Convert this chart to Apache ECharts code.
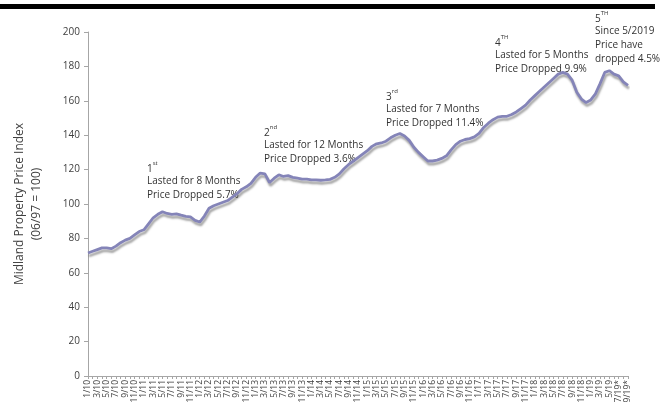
<!DOCTYPE html>
<html>
<head>
<meta charset="utf-8">
<script src="https://cdn.jsdelivr.net/npm/echarts@6/dist/echarts.min.js"></script>
<style>
html,body{margin:0;padding:0;background:#fff;}
#c{width:670px;height:407px;}
</style>
</head>
<body>
<div id="c"></div>
<script>
var categories = [
"1/10","2/10","3/10","4/10","5/10","6/10","7/10","8/10","9/10","10/10","11/10","12/10",
"1/11","2/11","3/11","4/11","5/11","6/11","7/11","8/11","9/11","10/11","11/11","12/11",
"1/12","2/12","3/12","4/12","5/12","6/12","7/12","8/12","9/12","10/12","11/12","12/12",
"1/13","2/13","3/13","4/13","5/13","6/13","7/13","8/13","9/13","10/13","11/13","12/13",
"1/14","2/14","3/14","4/14","5/14","6/14","7/14","8/14","9/14","10/14","11/14","12/14",
"1/15","2/15","3/15","4/15","5/15","6/15","7/15","8/15","9/15","10/15","11/15","12/15",
"1/16","2/16","3/16","4/16","5/16","6/16","7/16","8/16","9/16","10/16","11/16","12/16",
"1/17","2/17","3/17","4/17","5/17","6/17","7/17","8/17","9/17","10/17","11/17","12/17",
"1/18","2/18","3/18","4/18","5/18","6/18","7/18","8/18","9/18","10/18","11/18","12/18",
"1/19","2/19","3/19","4/19","5/19","6/19","7/19*","8/19*","9/19*"
];
var priceIndex = [
71.5,72.5,73.5,74.5,74.5,74,75.5,77.5,79,80,82,84,
85,88.5,92,94,95.5,94.5,94,94.3,93.5,92.8,92.5,90.5,
89.5,93,97.5,99,100,101,102,104,106,108.5,110,112,
115.5,118,117.5,112.5,115,117,116,116.5,115.5,115,114.5,114.5,
114,114,113.8,114,114.3,115.5,117.5,120.5,123,125,127,129,
131,133.5,135,135.5,136.5,138.5,140,141,139.5,137,133,130,
127.5,125,125,125.5,126.5,128,131.5,134.5,136.5,137.5,138,139,
141,144.5,147,149,150.5,151,151,152,153.5,155.5,157.5,160.5,
163,165.5,168,170.5,173,175.5,176.5,175.5,172,165,161,159,
160.5,164,170,176.5,177.5,175.5,174.5,171,169
];
var yTicks = {min: 0, max: 200, step: 20};
var yAxisName = "Midland Property Price Index\n(06/97 = 100)";
var notes = [
  {ord: "1", sup: "st", lines: ["Lasted for 8 Months", "Price Dropped 5.7%"]},
  {ord: "2", sup: "nd", lines: ["Lasted for 12 Months", "Price Dropped 3.6%"]},
  {ord: "3", sup: "rd", lines: ["Lasted for 7 Months", "Price Dropped 11.4%"]},
  {ord: "4", sup: "TH", lines: ["Lasted for 5 Months", "Price Dropped 9.9%"]},
  {ord: "5", sup: "TH", lines: ["Since 5/2019", "Price have", "dropped 4.5%"]}
];
var notePos = [[147,160],[264,124],[386,88],[495,34],[595,10]];

var FONT = "'Open Sans', 'Noto Sans', sans-serif";
var chart = echarts.init(document.getElementById('c'), null, {renderer: 'canvas'});

var graphics = [{
  type: 'rect', left: 0, top: 4, shape: {width: 655, height: 5},
  style: {fill: '#000'}, silent: true
}];
notes.forEach(function (n, k) {
  var txt = '{o|' + n.ord + '}{s|' + n.sup + '}\n' + n.lines.map(function (l) { return '{t|' + l + '}'; }).join('\n');
  graphics.push({
    type: 'text', left: notePos[k][0], top: notePos[k][1], silent: true,
    style: {
      text: txt,
      fill: '#333',
      font: '10px ' + FONT,
      rich: {
        o: {fontSize: 10, fontFamily: FONT, fill: '#333', lineHeight: 14, verticalAlign: 'bottom'},
        s: {fontSize: 6, fontFamily: FONT, fill: '#333', lineHeight: 14, verticalAlign: 'top', padding: [0, 0, 6, 0]},
        t: {fontSize: 10, fontFamily: FONT, fill: '#333', lineHeight: 14}
      }
    }
  });
});

chart.setOption({
  animation: false,
  backgroundColor: '#fff',
  grid: {left: 88, right: 42, top: 32, bottom: 31, containLabel: false},
  xAxis: {
    type: 'category',
    data: categories,
    boundaryGap: false,
    axisLine: {show: true, lineStyle: {color: '#a6a6a6', width: 1}},
    axisTick: {show: true, interval: 0, length: 3, lineStyle: {color: '#a6a6a6'}},
    axisLabel: {interval: 1, rotate: 90, fontSize: 8.5, color: '#404040', fontFamily: FONT, margin: 4},
    splitLine: {show: false}
  },
  yAxis: {
    type: 'value',
    min: yTicks.min, max: yTicks.max, interval: yTicks.step,
    name: yAxisName,
    nameLocation: 'middle',
    nameGap: 43,
    nameRotate: 90,
    nameTextStyle: {fontSize: 12, color: '#404040', fontFamily: FONT, lineHeight: 17},
    axisLine: {show: true, lineStyle: {color: '#a6a6a6', width: 1}},
    axisTick: {show: true, length: 4, lineStyle: {color: '#a6a6a6'}},
    axisLabel: {fontSize: 10, color: '#404040', fontFamily: FONT, margin: 8},
    splitLine: {show: false}
  },
  series: [{
    type: 'line',
    data: priceIndex,
    symbol: 'none',
    smooth: false,
    lineStyle: {
      color: '#8484b8', width: 2.8,
      shadowColor: 'rgba(0,0,0,0.35)', shadowBlur: 2, shadowOffsetY: 3, shadowOffsetX: 1
    }
  }],
  graphic: graphics
});
</script>
</body>
</html>
